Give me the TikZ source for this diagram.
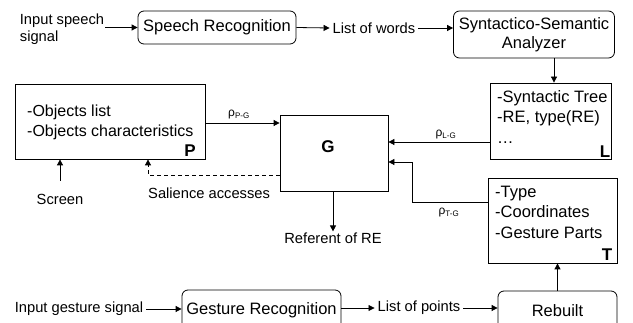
\documentclass[tikz,border=0pt]{standalone}
\usepackage{fontspec}
\setmainfont{Liberation Sans}
\usetikzlibrary{arrows.meta}
\begin{document}
\begin{tikzpicture}[x=1pt,y=-1pt,
  box/.style={draw, line width=0.8pt, inner sep=0pt},
  rbox/.style={box, rounded corners=6pt},
  big/.style={font=\fontsize{16.5}{19}\selectfont},
  listtxt/.style={font=\fontsize{16.5}{20.5}\selectfont, align=left, anchor=west, inner sep=0pt},
  small/.style={font=\fontsize{14.7}{17}\selectfont, inner xsep=3pt, inner ysep=1pt},
  tag/.style={font=\fontsize{17}{19}\bfseries\selectfont, inner sep=0pt},
  rho/.style={font=\fontsize{12}{14}\selectfont, inner sep=0pt},
  arr/.style={-{Triangle[length=6pt,width=6pt]}, line width=0.8pt}]
\clip (0,0) rectangle (633,323);

% speech branch
\node[small, align=left, inner xsep=1pt] (insp) at (62,29) {Input speech\\signal};
\node[rbox, big, minimum width=158pt, minimum height=33pt] (sr) at (217,27.5) {Speech Recognition};
\node[small] (words) at (374,28) {List of words};
\node[rbox, big, minimum width=161pt, minimum height=47pt, align=center] (syn) at (534,34.5) {Syntactico-Semantic\\Analyzer};

% linguistic box L
\node[box, minimum width=121pt, minimum height=76pt] (L) at (550.5,121) {};
\node[listtxt] (Ltxt) at (497,117) {-Syntactic Tree\\-RE, type(RE)\\…};
\node[tag] (Ltag) at (605,152) {L};

% perceptual box P
\node[box, minimum width=190pt, minimum height=75pt] (P) at (110,121.5) {};
\node[listtxt, font=\fontsize{16}{19.5}\selectfont] (Ptxt) at (27,122.5) {-Objects list\\-Objects characteristics};
\node[tag] (Ptag) at (190,151) {P};

% central box G
\node[box, minimum width=108pt, minimum height=76pt] (G) at (334,153) {};
\node[tag] (Gtag) at (328,147) {G};

% gesture box T
\node[box, minimum width=129pt, minimum height=85pt] (T) at (552.5,220.5) {};
\node[listtxt] (Ttxt) at (495,212) {-Type\\-Coordinates\\-Gesture Parts};
\node[tag] (Ttag) at (607,255) {T};

% gesture branch
\node[small] (ingest) at (79,309) {Input gesture signal};
\node[rbox, big, minimum width=159pt, minimum height=40pt] (gr) at (261.5,310) {Gesture Recognition};
\node[small] (points) at (419,308) {List of points};
\node[rbox, big, minimum width=119pt, minimum height=40pt] (rb) at (557.5,311) {Rebuilt};

% other labels
\node[small] (scr) at (60,199) {Screen};
\node[small, anchor=west] (sal) at (145,193) {Salience accesses};
\node[small] (ref) at (333,238) {Referent of RE};
\node[rho] (rPG) at (239,115) {ρ\textsubscript{P-G}};
\node[rho] (rLG) at (446,135) {ρ\textsubscript{L-G}};
\node[rho] (rTG) at (449,213) {ρ\textsubscript{T-G}};

% connectors
\draw[arr] (insp.east |- sr.west) -- (sr.west);
\draw[arr] (sr.east) -- (words.west);
\draw[arr] (words.east) -- (words.east -| syn.west);
\draw[arr] ([xshift=3.5pt]L.north |- syn.south) -- ([xshift=3.5pt]L.north);
\draw[arr] ([yshift=-21pt]L.west) -- ([yshift=-21pt]L.west -| G.east);
\draw[arr] ([yshift=-1.5pt]P.east) -- ([yshift=-1.5pt]P.east -| G.west);
\draw[arr] ([yshift=12pt]scr.north) -- (scr.north |- P.south);
\draw[arr, dash pattern=on 4pt off 3pt] ([yshift=-22pt]G.west) -| ([xshift=38pt]P.south);
\draw[arr] (G.south -| ref.north) -- (ref.north);
\draw[arr] ([yshift=18.5pt]T.west) -- ++(-75,0) |- ([yshift=-9pt]G.east);
\draw[arr] (ingest.east) -- (ingest.east -| gr.west);
\draw[arr] (gr.east |- points.west) -- (points.west);
\draw[arr] (points.east) -- (points.east -| rb.west);
\draw[arr] (rb.north) -- (rb.north |- T.south);
\end{tikzpicture}
\end{document}
